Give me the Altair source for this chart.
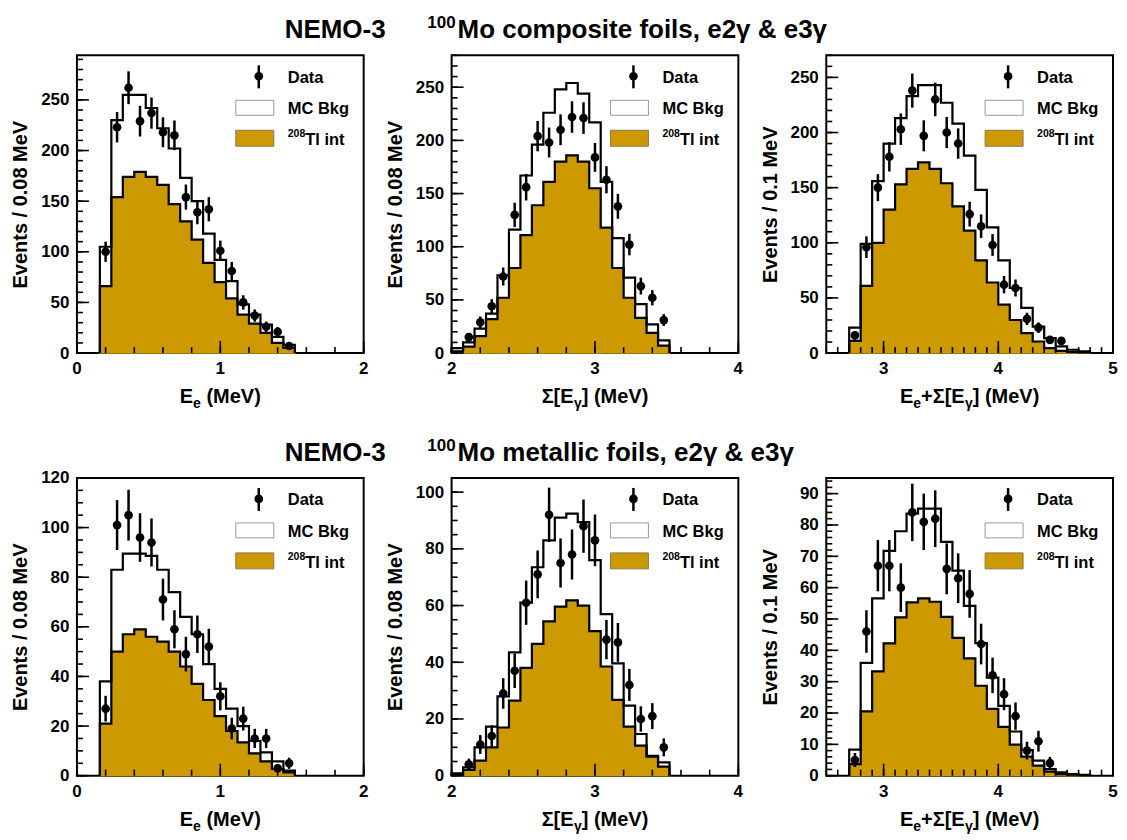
import altair as alt
import pandas as pd
import numpy as np

FONT = "Liberation Sans"
ORANGE = "#CC9900"
W, H = 287, 298

# ---------------- data ----------------
# composite foils
p1_lo, p1_w = 0.16, 0.08
p1_tl = [66, 154, 174, 179, 174, 166, 147, 130, 112, 89, 70, 54, 38, 29, 20, 10, 5]
p1_mc = [105, 230, 255, 255, 242, 222, 202, 173, 150, 118, 92, 71, 48, 38, 28, 16, 8]
p1_dt = [100, 223, 262, 229, 237, 218, 215, 154, 139, 142, 101, 81, 50, 37, 26, 21, 7]

p2_lo, p2_w = 2.00, 0.08
p2_tl = [1.5, 6, 16, 32, 52, 80, 111, 139, 161, 180, 186, 180, 155, 118, 80, 52, 33, 19, 7]
p2_mc = [4.7, 10, 23, 37, 73, 116, 167, 196, 226, 248, 254, 244, 217, 161, 108, 71, 46, 27, 12]
p2_dt = [None, 15, 29, 44, 72, 130, 156, 204, 198, 210, 222, 221, 184, 163, 138, 102, 63, 52, 31]

p3_lo, p3_w = 2.70, 0.10
p3_tl = [11, 61, 100, 130, 153, 167, 173, 167, 154, 133, 111, 84, 64, 44, 30, 18, 10.5, 4.5, 2, 1, 0.5]
p3_mc = [23, 99, 156, 190, 213, 233, 243, 243, 227, 208, 179, 148, 114, 84, 59, 41, 24, 13.5, 6, 3, 1.5]
p3_dt = [16, 96, 150, 178, 203, 238, 197, 230, 200, 190, 126, 115, 98, 62, 59, 31, 23, 12, 11, None, None]

# metallic foils
p4_lo, p4_w = 0.16, 0.08
p4_tl = [21, 50, 57, 59, 56, 54, 50, 44, 37, 30.5, 24, 18, 13.4, 9, 5.8, 2.7, 1.3]
p4_mc = [38, 83, 89.5, 89.5, 88.6, 83, 74, 64, 57, 45, 35, 27, 20, 14, 9.4, 5.8, 2]
p4_dt = [27, 101, 105, 96, 94, 71, 59, 49, 57, 52, 32, 19, 23, 15, 15, 3, 5]

p5_lo, p5_w = 2.00, 0.08
p5_tl = [0.4, 2, 5.3, 10, 17, 26.5, 38, 46.5, 54.4, 59.6, 61.8, 60, 51, 38.5, 26.7, 17.3, 10.6, 6.7, 3.2]
p5_mc = [0.8, 2.9, 10, 17.3, 28, 43.5, 61, 73.5, 83, 91, 92.4, 89.4, 76, 57, 39.6, 24.7, 14.7, 7, 4.7]
p5_dt = [None, 4, 11, 14, 29, 37, 61, 71, 92, 75, 78, 88, 83, 48, 47, 32, 20, 21, 10]

p6_lo, p6_w = 2.70, 0.10
p6_tl = [3.7, 20.5, 33.3, 42.2, 50.5, 55.3, 56.6, 55.5, 50.7, 44, 37.4, 28.7, 21.3, 15.6, 9.9, 6.1, 3.2, 1.3, 0.5, 0.3, 0.2]
p6_mc = [8.3, 36, 56.6, 71.7, 78, 83.6, 85.2, 85.2, 74.6, 65.4, 54.2, 42.3, 31.3, 22.3, 14.1, 8.2, 4.8, 2.1, 1.1, 0.5, 0.3]
p6_dt = [5, 46, 67, 67, 60, 84, 81, 82, 66, 63, 58, 42, 32, 26, 19, 8, 11, 4, None, None, None]

# axis ranges and tick labels
x_ee = [0, 2];   x_ee_lab = [0, 1, 2]
x_sg = [2, 4];   x_sg_lab = [2, 3, 4]
x_tot = [2.5, 5]; x_tot_lab = [3, 4, 5]
y_lab_250 = [0, 50, 100, 150, 200, 250]
y_lab_120 = [0, 20, 40, 60, 80, 100, 120]
y_lab_100 = [0, 20, 40, 60, 80, 100]
y_lab_90 = [0, 10, 20, 30, 40, 50, 60, 70, 80, 90]

TITLE_TOP = "Mo composite foils, e2\u03b3 & e3\u03b3"
TITLE_BOT = "Mo metallic foils, e2\u03b3 & e3\u03b3"

# ---------------- helpers ----------------
ADV = {' ': .278, '(': .333, ')': .333, '+': .584, '[': .333, ']': .333,
       'E': .667, 'M': .833, 'V': .667, 'e': .556, '\u03a3': .617, '\u03b3': .556}


def twidth(s, size):
    return sum(ADV.get(c, .556) for c in s) * size


def one():
    return pd.DataFrame({"a": [0]})


def text_at(txt, x, y, size, align="left", baseline="alphabetic", weight="bold"):
    return alt.Chart(one()).mark_text(
        text=txt, font=FONT, fontSize=size, fontWeight=weight, color="black",
        align=align, baseline=baseline
    ).encode(x=alt.value(x), y=alt.value(y))


def rich_center(pieces, cx, base):
    # pieces: (text, font size, baseline shift, gap before)
    total = sum(twidth(t, s) + g for t, s, d, g in pieces)
    x = cx - total / 2
    layers = []
    for t, s, d, g in pieces:
        x += g
        layers.append(text_at(t, x, base + d, s))
        x += twidth(t, s)
    return layers


def panel(lo, w, tl, mc, dt, xdom, xlab, xminor, ymax, ylab, yminor,
          ytitle, xtitle, title=None):
    n = len(tl)
    edges = [round(lo + w * i, 4) for i in range(n + 1)]
    rows = []
    for name, vals in (("mc", mc), ("tl", tl)):
        pts = [(edges[0], 0)] + [(edges[i], vals[i]) for i in range(n)] + \
              [(edges[n], vals[-1]), (edges[n], 0)]
        for k, (xx, yy) in enumerate(pts):
            rows.append({"s": name, "i": k, "x": xx, "y": yy})
    steps = pd.DataFrame(rows)
    area = pd.DataFrame({"x": edges, "y": list(tl) + [tl[-1]]})
    bins = pd.DataFrame({"x0": edges[:-1], "x1": edges[1:], "tl": tl, "z": [0] * n})
    pts = pd.DataFrame({"x": [(edges[i] + edges[i + 1]) / 2 for i in range(n)],
                        "n": dt}).dropna()
    pts["lo"] = pts["n"] - np.sqrt(pts["n"])
    pts["hi"] = pts["n"] + np.sqrt(pts["n"])

    xs = alt.Scale(domain=xdom, nice=False, zero=False)
    ys = alt.Scale(domain=[0, ymax], nice=False, zero=False)
    ya = alt.Axis(values=ylab, format="d", labelFont=FONT, labelFontSize=17,
                  labelFontWeight="bold", labelColor="black", labelPadding=8,
                  labelOverlap=False, ticks=False, domain=False, grid=False,
                  title=ytitle, titleFont=FONT, titleFontSize=20, titleFontWeight="bold",
                  titleColor="black", titleX=-50, titleY=H / 2, titleAlign="center",
                  titleBaseline="alphabetic", titleAngle=270)

    def X(f):
        return alt.X(f, type="quantitative", scale=xs, axis=None)

    def Y(f, **kw):
        return alt.Y(f, type="quantitative", scale=ys, axis=ya, **kw)

    fill_r = alt.Chart(bins).mark_rect(color=ORANGE, stroke=ORANGE, strokeWidth=1.2).encode(
        x=X("x0"), x2="x1:Q", y=Y("tl"), y2="z:Q")
    fill_a = alt.Chart(area).mark_area(interpolate="step-after", color=ORANGE,
                                       opacity=1).encode(x=X("x"), y=Y("y", stack=None))
    lines = alt.Chart(steps).mark_line(interpolate="step-after", color="black",
                                       strokeWidth=2.2).encode(
        x=X("x"), y=Y("y"), detail="s:N", order="i:Q")
    err = alt.Chart(pts).mark_rule(color="black", strokeWidth=2.5).encode(
        x=X("x"), y=Y("lo"), y2="hi:Q")
    dots = alt.Chart(pts).mark_point(filled=True, color="black", size=75, opacity=1).encode(
        x=X("x"), y=Y("n"))

    ymaj = pd.DataFrame({"v": ylab})
    ymin = pd.DataFrame({"v": yminor})
    xmaj = pd.DataFrame({"v": xlab})
    xmin = pd.DataFrame({"v": xminor})
    tk = dict(color="black", strokeWidth=1.6)
    ytm = alt.Chart(ymaj).mark_rule(**tk).encode(
        y=Y("v"), x=alt.value(0), x2=alt.value(12))
    ytn = alt.Chart(ymin).mark_rule(**tk).encode(
        y=Y("v"), x=alt.value(0), x2=alt.value(6))
    xtm = alt.Chart(xmaj).mark_rule(**tk).encode(
        x=X("v"), y=alt.value(H), y2=alt.value(H - 12))
    xtn = alt.Chart(xmin).mark_rule(**tk).encode(
        x=X("v"), y=alt.value(H), y2=alt.value(H - 6))
    xlb = alt.Chart(xmaj).mark_text(font=FONT, fontSize=17, fontWeight="bold",
                                    color="black", align="center", baseline="top").encode(
        x=X("v"), y=alt.value(H + 8), text=alt.Text("v:Q", format="d"))

    # legend
    lg = [
        alt.Chart(one()).mark_rule(color="black", strokeWidth=2.5).encode(
            x=alt.value(182), y=alt.value(10), y2=alt.value(33)),
        alt.Chart(one()).mark_point(filled=True, color="black", size=75, opacity=1).encode(
            x=alt.value(182), y=alt.value(21)),
        alt.Chart(one()).mark_rect(fill="white", stroke="#999999", strokeWidth=1).encode(
            x=alt.value(159), x2=alt.value(197), y=alt.value(45), y2=alt.value(60)),
        alt.Chart(one()).mark_rect(fill=ORANGE, stroke="#8a7a50", strokeWidth=1).encode(
            x=alt.value(159), x2=alt.value(197), y=alt.value(75), y2=alt.value(91)),
        text_at("Data", 211, 27.5, 16.5),
        text_at("MC Bkg", 211, 59, 16.5),
        text_at("208", 211, 82, 10.5),
        text_at("Tl int", 228.5, 90, 16.5),
    ]
    xt = rich_center(xtitle, W / 2, H + 50)
    extra = []
    if title is not None:
        extra = [text_at("NEMO-3", -66, -17, 26, align="right"),
                 text_at("100", 4, -27, 17, align="right"),
                 text_at(title, 6, -17, 26, align="left")]
    return alt.layer(fill_r, fill_a, lines, err, dots, ytm, ytn, xtm, xtn, xlb, *lg, *xt,
                     *extra).properties(width=W, height=H)


def frange(a, b, s):
    k = int(round((b - a) / s))
    return [round(a + s * i, 4) for i in range(k + 1)]


SP = 0.278 * 20
XT_EE = [("E", 20, 0, 0), ("e", 14, 5, 0), ("(MeV)", 20, 0, SP)]
XT_SG = [("\u03a3[E", 20, 0, 0), ("\u03b3", 14, 5, 0), ("]", 20, 0, 0), ("(MeV)", 20, 0, SP)]
XT_TOT = [("E", 20, 0, 0), ("e", 14, 5, 0), ("+\u03a3[E", 20, 0, 0), ("\u03b3", 14, 5, 0),
          ("]", 20, 0, 0), ("(MeV)", 20, 0, SP)]

YT8 = "Events / 0.08 MeV"
YT1 = "Events / 0.1 MeV"

c1 = panel(p1_lo, p1_w, p1_tl, p1_mc, p1_dt, x_ee, x_ee_lab, frange(0, 2, 0.2),
           294, y_lab_250, frange(0, 290, 10), YT8, XT_EE)
c2 = panel(p2_lo, p2_w, p2_tl, p2_mc, p2_dt, x_sg, x_sg_lab, frange(2, 4, 0.2),
           280, y_lab_250, frange(0, 280, 10), YT8, XT_SG, title=TITLE_TOP)
c3 = panel(p3_lo, p3_w, p3_tl, p3_mc, p3_dt, x_tot, x_tot_lab, frange(2.5, 5, 0.1),
           270, y_lab_250, frange(0, 270, 10), YT1, XT_TOT)
c4 = panel(p4_lo, p4_w, p4_tl, p4_mc, p4_dt, x_ee, x_ee_lab, frange(0, 2, 0.2),
           120, y_lab_120, frange(0, 120, 5), YT8, XT_EE)
c5 = panel(p5_lo, p5_w, p5_tl, p5_mc, p5_dt, x_sg, x_sg_lab, frange(2, 4, 0.2),
           105, y_lab_100, frange(0, 105, 5), YT8, XT_SG, title=TITLE_BOT)
c6 = panel(p6_lo, p6_w, p6_tl, p6_mc, p6_dt, x_tot, x_tot_lab, frange(2.5, 5, 0.1),
           95, y_lab_90, frange(0, 94, 2), YT1, XT_TOT)

chart = alt.concat(c1, c2, c3, c4, c5, c6, columns=3,
                   spacing={"row": 125, "column": 88}, bounds="flush").configure_view(
    stroke="black", strokeWidth=2).properties(
    padding={"left": 2, "top": 5, "right": 0, "bottom": 0}, background="white")

chart.save("out.html", embed_options={"renderer": "svg", "actions": False})
